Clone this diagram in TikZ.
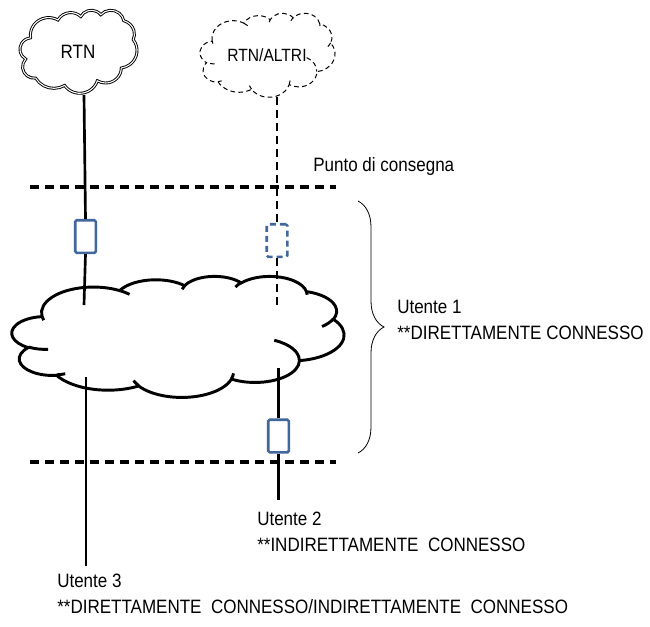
\documentclass[tikz,border=0pt]{standalone}
\usepackage{fontspec}
\setmainfont{Liberation Sans}[FakeStretch=0.88]
\usetikzlibrary{decorations.pathreplacing}
\definecolor{boxblue}{RGB}{66,103,156}
% visual (OOXML) angles -> parametric angles for TikZ elliptical arcs
\newcommand\cprep[5]{%
  \pgfmathsetmacro\cpa{atan2(#2*sin(#4), #3*cos(#4))}%
  \pgfmathsetmacro\cpb{atan2(#2*sin(#4+#5), #3*cos(#4+#5))}%
  \pgfmathsetmacro\cpd{\cpb-\cpa}%
  \pgfmathsetmacro\cpd{\cpd<0 ? \cpd+360 : \cpd}%
  \expandafter\xdef\csname cs#1\endcsname{\cpa}%
  \expandafter\xdef\csname cd#1\endcsname{\cpd}%
}
\cprep{A}{67.53}{91.90}{-190.4875}{123.7805}
\cprep{B}{53.33}{72.67}{-144.1024}{89.9452}
\cprep{C}{43.65}{59.45}{-145.8079}{99.7230}
\cprep{D}{48.57}{65.95}{-130.9861}{117.2417}
\cprep{E}{53.33}{72.73}{-78.7089}{109.0269}
\cprep{F}{67.75}{92.20}{-46.2673}{130.2690}
\cprep{G}{57.85}{78.67}{0.6250}{114.0333}
\cprep{H}{67.52}{92.15}{22.4516}{115.1726}
\cprep{I}{77.20}{105.43}{66.2426}{75.7110}
\cprep{J}{43.60}{59.18}{-274.9421}{146.7356}
\cprep{K}{43.45}{59.45}{-246.8285}{152.5189}
\cprep{a}{43.45}{59.45}{86.7420}{26.4295}
\cprep{b}{43.60}{59.18}{73.6105}{11.4475}
\cprep{c}{67.52}{92.15}{137.6242}{14.0811}
\cprep{d}{67.52}{92.15}{6.4533}{15.9984}
\cprep{e}{57.85}{78.67}{-70.2924}{70.9174}
\cprep{f}{53.33}{72.73}{30.3180}{27.7515}
\cprep{g}{48.57}{65.95}{-13.7443}{14.8589}
\cprep{h}{48.57}{65.95}{-149.1815}{18.1954}
\cprep{i}{43.65}{59.45}{-163.4943}{17.6864}
\cprep{j}{67.53}{91.90}{-66.7070}{12.3194}
\cprep{k}{67.53}{91.90}{157.6544}{11.8582}
\newcommand\oarc[3]{arc[start angle=\csname cs#1\endcsname, delta angle=\csname cd#1\endcsname, x radius=#2, y radius=#3]}
% #1 x0, #2 y0, #3 w, #4 h, #5 style, #6 inner arcs (1/0)
\newcommand\ocloud[6]{%
  \pgfmathsetmacro\cux{#3/432*0.75}%
  \pgfmathsetmacro\cuy{#4/432*0.75}%
  \begin{scope}[shift={(#1,#2)}, x=\cux pt, y=-\cuy pt]
    \draw[#5, fill=white] (39.00,143.70) \oarc{A}{67.53}{91.90} \oarc{B}{53.33}{72.67}
      \oarc{C}{43.65}{59.45} \oarc{D}{48.57}{65.95} \oarc{E}{53.33}{72.73}
      \oarc{F}{67.75}{92.20} \oarc{G}{57.85}{78.67} \oarc{H}{67.52}{92.15}
      \oarc{I}{77.20}{105.43} \oarc{J}{43.60}{59.18} \oarc{K}{43.45}{59.45} -- cycle;
    \ifnum#6=1
    \draw[#5] (46.93,261.77) \oarc{a}{43.45}{59.45}
      (69.28,348.99) \oarc{b}{43.60}{59.18}
      (164.78,390.90) \oarc{c}{67.52}{92.15}
      (288.27,347.51) \oarc{d}{67.52}{92.15}
      (341.29,229.54) \oarc{e}{57.85}{78.67}
      (417.98,153.54) \oarc{f}{53.33}{72.73}
      (383.24,54.26) \oarc{g}{48.57}{65.95}
      (290.78,39.52) \oarc{h}{48.57}{65.95}
      (221.41,47.20) \oarc{i}{43.65}{59.45}
      (140.00,51.92) \oarc{j}{67.53}{91.90}
      (41.27,157.89) \oarc{k}{67.53}{91.90};
    \fi
  \end{scope}%
}
\begin{document}
\begin{tikzpicture}[x=0.75pt, y=-0.75pt,
  lbl/.style={font=\fontsize{14.5}{19.5}\selectfont, inner sep=0pt, align=left, anchor=base west},
  dev/.style={draw=boxblue, fill=white, line width=1.9pt, rounded corners=1pt, minimum width=15.4pt, minimum height=24.4pt, inner sep=0pt},
  devdash/.style={dev, dash pattern=on 4.5pt off 3pt},
  demarc/.style={line width=2.4pt, dash pattern=on 6.75pt off 4.5pt},
  wire/.style={line width=2pt},
  wiredash/.style={line width=2.1pt, dash pattern=on 6pt off 3.75pt}]
\useasboundingbox (0,0) rectangle (650,626);
\fill[white] (0,0) rectangle (650,626);

% clouds
\ocloud{20}{10}{117}{83}{line width=0.7pt, double=white, double distance=0.8pt}{0}
\ocloud{200}{13}{135}{84}{line width=0.75pt, dash pattern=on 3.5pt off 2.5pt}{1}
\ocloud{12}{276}{332}{121}{line width=2.2pt}{1}

\node[lbl, anchor=center] (rtn) at (78,52) {RTN};
\node[lbl, anchor=center, font=\fontsize{13.3}{15}\selectfont] (altri) at (267,55) {RTN/ALTRI};

% demarcation lines
\coordinate (d1a) at (30,187); \coordinate (d1b) at (336,187);
\coordinate (d2a) at (30,462); \coordinate (d2b) at (336,462);
\draw[demarc] (d1a) -- (d1b);
\draw[demarc] (d2a) -- (d2b);

% devices
\node[dev] (b1) at (85.5,236.5) {};
\node[devdash] (b2) at (277,240.5) {};
\node[dev] (b3) at (278.5,436) {};

% wires
\coordinate (c1) at (84,95);
\coordinate (c1e) at (84,305);
\coordinate (c2) at (277,97);
\coordinate (c2e) at (277,305);
\coordinate (c3) at (278.5,368);
\coordinate (c3e) at (278.5,500);
\coordinate (c4) at (86,377);
\coordinate (c4e) at (86,566);
\draw[wire] (c1) -- (b1.north);
\draw[wire] (b1.south) -- (c1e);
\draw[wiredash] (c2) -- (b2.north);
\draw[wiredash] (b2.south) -- (c2e);
\draw[wire, line width=2.2pt] (c3) -- (b3.north);
\draw[wire, line width=2.2pt] (b3.south) -- (c3e);
\draw[wire, line width=1.5pt] (c4) -- (c4e);

% brace
\coordinate (br1) at (358,201); \coordinate (br2) at (358,453);
\draw[line width=0.6pt, decorate, decoration={brace, amplitude=19.5pt}] (br1) -- (br2);

% labels (base anchor = baseline of last line)
\node[lbl] (punto) at (313,171) {Punto di consegna};
\node[lbl] (u1) at (397,339) {Utente 1\\**DIRETTAMENTE CONNESSO};
\node[lbl] (u2) at (257,551) {Utente 2\\**INDIRETTAMENTE\ \ CONNESSO};
\node[lbl] (u3) at (57,613) {Utente 3\\**DIRETTAMENTE\ \ CONNESSO/INDIRETTAMENTE\ \ CONNESSO};
\end{tikzpicture}
\end{document}
